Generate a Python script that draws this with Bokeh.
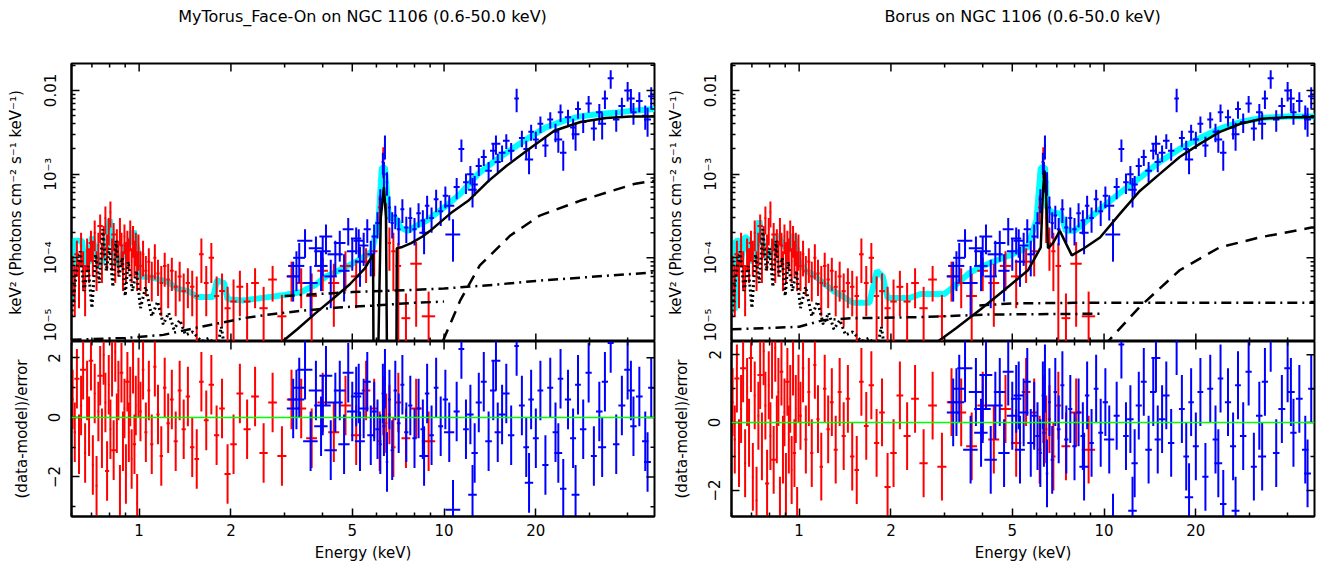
import numpy as np
from bokeh.plotting import figure
from bokeh.models import Range1d, FixedTicker, Span, Div
from bokeh.layouts import row, column
from bokeh.embed import file_html
from bokeh.resources import INLINE

# ---------------- data: XMM (red) ----------------
red_e = [0.605, 0.615, 0.625, 0.635, 0.645, 0.655, 0.665, 0.675, 0.685, 0.695,
         0.705, 0.715, 0.725, 0.735, 0.745, 0.755, 0.765, 0.775, 0.785, 0.795,
         0.805, 0.815, 0.825, 0.835, 0.845, 0.855, 0.865, 0.875, 0.885, 0.895,
         0.905, 0.915, 0.925, 0.935, 0.945, 0.955, 0.965, 0.975, 0.985, 0.995,
         1.010, 1.030, 1.052, 1.076, 1.100, 1.126, 1.153, 1.182, 1.213, 1.245,
         1.280, 1.318, 1.358, 1.400, 1.445, 1.493, 1.545, 1.600, 1.660, 1.725,
         1.795, 1.870, 1.950, 2.040, 2.140, 2.260, 2.400, 2.560, 2.740, 2.940,
         3.160, 3.400, 3.680, 4.000, 4.350, 4.750, 5.150, 5.550, 5.900, 6.150,
         6.320, 6.460, 6.620, 6.820, 7.080, 7.500, 8.100, 8.900]
red_hw = [0.005, 0.005, 0.012, 0.005, 0.005, 0.015, 0.005, 0.005, 0.005, 0.012,
          0.005, 0.005, 0.005, 0.005, 0.015, 0.005, 0.005, 0.005, 0.012, 0.005,
          0.005, 0.005, 0.015, 0.005, 0.005, 0.005, 0.005, 0.012, 0.005, 0.005,
          0.005, 0.015, 0.005, 0.005, 0.005, 0.005, 0.012, 0.005, 0.005, 0.005,
          0.010, 0.010, 0.012, 0.012, 0.013, 0.013, 0.014, 0.015, 0.016, 0.016,
          0.018, 0.020, 0.020, 0.022, 0.024, 0.025, 0.027, 0.028, 0.030, 0.035,
          0.035, 0.040, 0.045, 0.050, 0.055, 0.060, 0.070, 0.080, 0.090, 0.100,
          0.110, 0.130, 0.150, 0.160, 0.180, 0.200, 0.200, 0.180, 0.150, 0.080,
          0.060, 0.060, 0.080, 0.110, 0.150, 0.250, 0.350, 0.450]
red_f = [7.0e-5, 5.0e-5, 1.1e-4, 6.0e-5, 1.4e-4, 8.0e-5, 5.0e-5, 1.2e-4, 9.0e-5, 1.5e-4,
         1.1e-4, 2.0e-4, 8.0e-5, 1.4e-4, 2.4e-4, 1.0e-4, 1.7e-4, 3.0e-4, 1.3e-4, 2.2e-4,
         3.5e-4, 1.2e-4, 1.9e-4, 9.0e-5, 1.6e-4, 1.1e-4, 2.2e-4, 1.4e-4, 8.0e-5, 1.8e-4,
         1.0e-4, 1.5e-4, 1.2e-4, 2.0e-4, 9.0e-5, 1.7e-4, 1.1e-4, 1.4e-4, 8.0e-5, 1.3e-4,
         8.0e-5, 1.1e-4, 7.0e-5, 9.0e-5, 6.0e-5, 1.0e-4, 6.5e-5, 5.0e-5, 8.0e-5, 5.5e-5,
         7.0e-5, 4.5e-5, 6.0e-5, 4.0e-5, 5.0e-5, 4.5e-5, 3.5e-5, 1.1e-4, 5.0e-5, 1.0e-4,
         3.5e-5, 4.0e-5, 2.5e-5, 3.0e-5, 4.5e-5, 3.0e-5, 5.0e-5, 2.5e-5, 5.5e-5, 2.0e-5,
         6.0e-5, 5.0e-5, 3.5e-5, 7.0e-5, 5.0e-5, 8.0e-5, 6.0e-5, 9.0e-5, 1.2e-4, 4.0e-4,
         1.5e-3, 3.0e-4, 1.5e-4, 1.2e-4, 8.0e-5, 1.9e-5, 8.5e-5, 2.0e-5]
red_df = [3.5e-5, 3.0e-5, 5.0e-5, 3.5e-5, 6.0e-5, 4.0e-5, 3.0e-5, 5.0e-5, 4.0e-5, 6.0e-5,
          5.0e-5, 8.0e-5, 4.0e-5, 6.0e-5, 9.0e-5, 5.0e-5, 7.0e-5, 1.1e-4, 6.0e-5, 8.0e-5,
          1.2e-4, 5.0e-5, 7.0e-5, 4.0e-5, 6.0e-5, 5.0e-5, 8.0e-5, 6.0e-5, 4.0e-5, 7.0e-5,
          5.0e-5, 6.0e-5, 5.0e-5, 8.0e-5, 4.0e-5, 7.0e-5, 5.0e-5, 6.0e-5, 4.0e-5, 6.0e-5,
          4.0e-5, 5.0e-5, 3.5e-5, 4.0e-5, 3.0e-5, 4.5e-5, 3.0e-5, 3.0e-5, 3.5e-5, 3.0e-5,
          3.0e-5, 2.5e-5, 3.0e-5, 2.5e-5, 2.5e-5, 2.5e-5, 2.5e-5, 6.0e-5, 3.0e-5, 5.0e-5,
          2.5e-5, 2.5e-5, 2.0e-5, 2.5e-5, 2.5e-5, 2.0e-5, 2.5e-5, 2.0e-5, 2.5e-5, 1.6e-5,
          3.0e-5, 2.5e-5, 3.0e-5, 3.0e-5, 3.5e-5, 4.0e-5, 3.5e-5, 4.0e-5, 6.0e-5, 1.5e-4,
          6.0e-4, 1.5e-4, 8.0e-5, 8.0e-5, 7.0e-5, 1.85e-5, 7.0e-5, 1.95e-5]
red_res = [0.6, -0.5, 1.3, -0.9, 0.4, 1.6, -1.2, 0.9, -0.3, 1.9,
           -1.6, 0.8, -2.3, 0.2, 1.4, -0.7, 2.1, 0.5, -1.8, 1.1,
           -0.4, 1.7, -1.1, 2.2, -0.2, 0.9, -2.6, 1.5, -0.8, 0.3,
           -1.9, 1.2, -0.5, 0.7, -1.4, 1.8, -0.9, 0.4, -2.9, 1.0,
           0.2, 1.6, -0.5, 0.9, -0.9, 1.7, 0.1, -1.3, 1.0, -0.2,
           0.6, -0.8, 0.9, -0.4, 0.7, -1.0, -1.4, 1.2, -0.1, 1.1,
           -0.6, 0.3, -1.9, -0.9, 0.8, -0.4, 0.7, -1.2, 0.5, -1.3,
           0.6, 0.3, -0.7, 0.5, -0.5, 0.4, -0.6, 0.9, 0.3, -0.8,
           0.4, -0.2, 0.1, -1.0, 0.5, -0.7, 0.3, -0.8]

# ---------------- data: NuSTAR (blue) ----------------
blue_e = [3.20, 3.28, 3.35, 3.50, 3.65, 3.80, 3.95, 4.00, 4.10, 4.25,
          4.40, 4.55, 4.70, 4.85, 5.00, 5.15, 5.25, 5.30, 5.45, 5.60,
          5.75, 5.90, 6.05, 6.18, 6.30, 6.35, 6.40, 6.50, 6.62, 6.76,
          6.92, 7.10, 7.30, 7.52, 7.75, 8.00, 8.25, 8.52, 8.60, 8.80,
          9.10, 9.42, 9.75, 10.1, 10.4, 10.7, 11.0, 11.4, 11.8, 12.2,
          12.4, 12.6, 13.0, 13.5, 14.0, 14.5, 14.8, 15.0, 15.5, 16.0,
          16.6, 17.3, 18.0, 18.6, 19.0, 19.3, 20.0, 20.7, 21.5, 22.3,
          23.2, 23.7, 24.1, 24.6, 25.5, 26.5, 27.0, 27.5, 28.6, 29.8,
          31.0, 32.3, 33.0, 33.7, 35.2, 36.7, 38.3, 40.0, 41.0, 41.8,
          43.7, 45.7, 46.5, 47.8]
blue_hw = [0.15, 0.20, 0.15, 0.20, 0.20, 0.20, 0.20, 0.25, 0.20, 0.20,
           0.25, 0.20, 0.20, 0.20, 0.20, 0.20, 0.20, 0.20, 0.20, 0.15,
           0.15, 0.12, 0.10, 0.07, 0.06, 0.08, 0.05, 0.06, 0.07, 0.08,
           0.09, 0.10, 0.11, 0.12, 0.12, 0.13, 0.14, 0.15, 0.30, 0.15,
           0.16, 0.17, 0.18, 0.20, 0.40, 0.60, 0.25, 0.25, 0.25, 0.30,
           0.40, 0.30, 0.30, 0.30, 0.35, 0.35, 0.50, 0.35, 0.40, 0.40,
           0.40, 0.30, 0.40, 0.40, 0.60, 0.40, 0.45, 0.45, 0.50, 0.50,
           0.50, 0.70, 0.50, 0.60, 0.60, 0.60, 0.80, 0.60, 0.70, 0.70,
           0.70, 0.80, 1.00, 0.80, 0.80, 0.90, 1.00, 1.00, 1.20, 1.00,
           1.10, 1.10, 1.20, 1.10]
blue_f = [6.0e-5, 8.0e-5, 1.0e-4, 1.6e-4, 5.0e-5, 1.3e-4, 8.0e-5, 1.2e-4, 1.8e-4, 6.0e-5,
          1.1e-4, 1.5e-4, 7.0e-5, 2.2e-4, 1.2e-4, 1.7e-4, 1.6e-4, 9.0e-5, 1.4e-4, 2.2e-4,
          1.1e-4, 1.8e-4, 2.6e-4, 5.0e-4, 1.4e-3, 1.0e-3, 2.2e-3, 8.0e-4, 4.0e-4, 2.6e-4,
          3.2e-4, 2.2e-4, 3.8e-4, 2.3e-4, 3.0e-4, 2.2e-4, 3.4e-4, 2.8e-4, 2.0e-4, 4.2e-4,
          3.0e-4, 5.0e-4, 3.6e-4, 5.5e-4, 4.2e-4, 1.9e-4, 7.0e-4, 2.0e-3, 8.0e-4, 1.0e-3,
          6.5e-4, 7.5e-4, 1.25e-3, 1.6e-3, 1.1e-3, 1.9e-3, 2.3e-3, 1.4e-3, 1.8e-3, 2.5e-3,
          1.9e-3, 8.0e-3, 2.7e-3, 2.0e-3, 1.5e-3, 3.2e-3, 2.6e-3, 4.0e-3, 2.2e-3, 4.5e-3,
          3.2e-3, 2.6e-3, 5.5e-3, 1.8e-3, 4.8e-3, 3.6e-3, 3.0e-3, 6.0e-3, 4.2e-3, 7.0e-3,
          3.5e-3, 5.5e-3, 4.0e-3, 8.0e-3, 1.4e-2, 4.5e-3, 6.5e-3, 1.0e-2, 8.0e-3, 5.5e-3,
          7.5e-3, 5.0e-3, 4.5e-3, 8.5e-3]
blue_df = [3.0e-5, 4.0e-5, 5.0e-5, 6.0e-5, 3.0e-5, 5.0e-5, 4.0e-5, 6.0e-5, 7.0e-5, 3.5e-5,
           5.0e-5, 6.0e-5, 4.0e-5, 8.0e-5, 5.0e-5, 6.0e-5, 6.0e-5, 4.5e-5, 6.0e-5, 7.0e-5,
           5.0e-5, 7.0e-5, 9.0e-5, 1.6e-4, 4.0e-4, 4.0e-4, 7.0e-4, 2.5e-4, 1.4e-4, 9.0e-5,
           1.0e-4, 8.0e-5, 1.2e-4, 8.0e-5, 1.0e-4, 8.0e-5, 1.1e-4, 9.0e-5, 9.0e-5, 1.3e-4,
           1.0e-4, 1.5e-4, 1.2e-4, 1.6e-4, 1.4e-4, 1.0e-4, 2.0e-4, 6.0e-4, 2.2e-4, 2.5e-4,
           2.5e-4, 2.0e-4, 3.0e-4, 3.5e-4, 3.0e-4, 4.0e-4, 6.0e-4, 3.5e-4, 4.0e-4, 5.0e-4,
           4.5e-4, 2.5e-3, 6.0e-4, 5.0e-4, 5.0e-4, 7.0e-4, 6.0e-4, 9.0e-4, 6.0e-4, 1.0e-3,
           8.0e-4, 8.0e-4, 1.3e-3, 7.0e-4, 1.1e-3, 1.0e-3, 1.1e-3, 1.4e-3, 1.1e-3, 1.6e-3,
           1.0e-3, 1.4e-3, 1.4e-3, 2.0e-3, 3.5e-3, 1.3e-3, 1.7e-3, 2.6e-3, 2.4e-3, 1.6e-3,
           2.0e-3, 1.6e-3, 1.7e-3, 2.4e-3]
blue_res = [0.3, 0.6, 1.0, 1.6, -0.8, 0.9, -0.3, 0.4, 1.4, -1.1,
            0.5, 0.9, -0.9, 1.5, 0.2, 0.7, 0.8, -0.8, 0.3, 1.2,
            -0.6, 0.2, -0.4, -0.9, 0.8, -0.3, 1.3, -1.5, 0.6, -1.1,
            0.9, -0.2, 1.1, -0.5, 0.4, -0.7, 0.3, -0.4, -1.3, 0.8,
            -0.6, 1.0, -0.3, 0.6, -0.5, -3.1, 0.2, 2.3, -0.4, 0.1,
            -2.6, -1.2, 0.5, 1.2, -0.8, 0.9, 1.9, -0.5, 0.1, 0.8,
            -0.6, 2.4, 0.4, -1.0, -2.2, 0.6, -0.7, 0.9, -1.6, 1.0,
            -0.5, -1.2, 1.3, -2.4, 0.6, -0.7, -2.6, 1.1, -0.4, 1.5,
            -1.3, 0.2, -1.0, 1.2, 2.5, -0.9, 0.4, 1.6, 0.9, -0.3,
            0.7, -0.8, -1.5, 1.0]

# ---------------- models: MyTorus face-on (left) ----------------
myt_total_e = [0.60, 0.61, 0.65, 0.66, 0.69, 0.70, 0.72, 0.74, 0.77, 0.79, 0.80, 0.82,
               0.84, 0.87, 0.90, 0.93, 0.96, 0.99, 1.00, 1.10, 1.17, 1.25, 1.33, 1.45,
               1.55, 1.75, 1.80, 1.90, 1.95, 2.20, 2.50, 3.00, 3.40, 3.80, 4.10, 4.50,
               5.00, 5.40, 5.80, 6.10, 6.25, 6.40, 6.50, 6.60, 7.00, 7.20, 7.60, 8.10,
               8.80, 10.0, 11.3, 12.9, 14.7, 16.7, 18.9, 21.5, 24.5, 27.9, 31.7, 36.0,
               41.0, 49.0]
myt_total_f = [3.1e-5, 1.6e-4, 1.6e-4, 8.8e-5, 9.0e-5, 1.8e-4, 1.2e-4, 8.0e-5, 1.0e-4, 1.6e-4,
               2.9e-4, 1.5e-4, 8.5e-5, 9.0e-5, 1.4e-4, 1.5e-4, 2.1e-4, 1.2e-4, 6.0e-5, 5.8e-5,
               5.5e-5, 5.1e-5, 4.3e-5, 4.0e-5, 3.4e-5, 3.4e-5, 5.4e-5, 5.0e-5, 3.2e-5, 3.1e-5,
               3.3e-5, 3.6e-5, 3.9e-5, 4.8e-5, 6.0e-5, 7.0e-5, 8.5e-5, 1.0e-4, 1.2e-4, 2.8e-4,
               1.2e-3, 1.2e-3, 5.8e-4, 3.0e-4, 2.9e-4, 2.3e-4, 2.1e-4, 2.4e-4, 2.8e-4, 4.0e-4,
               5.8e-4, 1.0e-3, 1.45e-3, 2.0e-3, 2.7e-3, 3.6e-3, 4.3e-3, 4.9e-3, 5.2e-3, 5.4e-3,
               5.7e-3, 6.0e-3]
myt_solid_e = [2.95, 3.3, 3.8, 4.3, 4.9, 5.5, 5.85, 5.9, 5.95, 6.2, 6.35, 6.45, 6.55, 6.75,
               6.95, 7.0, 7.3, 7.8, 8.5, 9.0, 10.5, 12.0, 14.0, 16.0, 19.0, 23.0, 28.0,
               34.0, 41.0, 49.0]
myt_solid_f = [1.0e-5, 1.4e-5, 2.2e-5, 3.2e-5, 4.8e-5, 7.5e-5, 1.1e-4, 1e-7, 1e-7, 3.0e-4,
               7.0e-4, 3.0e-4, 1e-7, 1e-7, 1e-7, 1.3e-4, 1.35e-4, 1.5e-4, 1.8e-4, 2.1e-4,
               3.4e-4, 4.8e-4, 8.3e-4, 1.25e-3, 2.0e-3, 3.3e-3, 4.2e-3, 4.7e-3, 4.9e-3, 4.9e-3]
myt_dash_e = [9.6, 9.9, 11.3, 13.1, 16.5, 20.6, 27.9, 42.4, 49.0]
myt_dash_f = [6e-6, 1.0e-5, 3.1e-5, 8.1e-5, 1.85e-4, 3.2e-4, 4.8e-4, 7.7e-4, 8.3e-4]
myt_dd1_e = [0.6, 0.9, 1.2, 1.6, 2.2, 2.8, 3.5, 4.5, 6.0, 8.0, 10.0]
myt_dd1_f = [1.05e-5, 1.1e-5, 1.2e-5, 1.5e-5, 1.9e-5, 2.15e-5, 2.35e-5, 2.55e-5, 2.7e-5, 2.9e-5, 3.0e-5]
myt_dd2_e = [3.0, 5.0, 7.5, 10.0, 15.0, 20.0, 30.0, 49.0]
myt_dd2_f = [3.5e-5, 3.9e-5, 4.1e-5, 4.3e-5, 4.8e-5, 5.3e-5, 5.9e-5, 6.7e-5]

# ---------------- models: Borus (right) ----------------
bor_total_e = [0.60, 0.615, 0.62, 0.635, 0.645, 0.66, 0.675, 0.69, 0.72, 0.74, 0.76, 0.79,
               0.82, 0.85, 0.88, 0.92, 0.96, 1.00, 1.05, 1.10, 1.20, 1.30, 1.42, 1.50,
               1.70, 1.80, 1.88, 1.95, 2.30, 2.50, 3.00, 3.30, 3.60, 4.00, 4.50, 5.00,
               5.60, 6.00, 6.20, 6.40, 6.50, 6.80, 7.20, 7.50, 8.00, 8.60, 9.70, 11.3,
               13.1, 15.2, 17.7, 20.6, 24.0, 28.0, 33.0, 40.0, 49.0]
bor_total_f = [2.4e-5, 2.4e-5, 1.6e-4, 1.6e-4, 9.0e-5, 1.75e-4, 1.75e-4, 9.0e-5, 1.0e-4, 2.8e-4,
               1.5e-4, 1.0e-4, 1.3e-4, 1.9e-4, 1.5e-4, 1.2e-4, 1.9e-4, 9.0e-5, 7.0e-5, 6.5e-5,
               5.0e-5, 4.0e-5, 3.3e-5, 2.9e-5, 2.9e-5, 7.0e-5, 6.0e-5, 3.3e-5, 3.3e-5, 3.7e-5,
               3.7e-5, 4.9e-5, 6.5e-5, 8.0e-5, 9.5e-5, 1.1e-4, 1.33e-4, 2.8e-4, 1.2e-3, 1.2e-3,
               4.0e-4, 3.4e-4, 3.4e-4, 2.1e-4, 2.1e-4, 2.6e-4, 3.8e-4, 6.0e-4, 9.0e-4, 1.4e-3,
               2.0e-3, 2.7e-3, 3.5e-3, 4.2e-3, 4.7e-3, 4.9e-3, 4.9e-3]
bor_solid_e = [2.85, 3.27, 3.92, 4.70, 5.63, 6.20, 6.30, 6.38, 6.45, 6.55, 6.80, 7.16,
               7.84, 8.60, 9.70, 11.3, 13.1, 15.2, 17.7, 20.6, 24.0, 28.0, 33.0, 40.0, 49.0]
bor_solid_f = [1.0e-5, 1.44e-5, 2.4e-5, 4.1e-5, 7.1e-5, 1.33e-4, 6.0e-4, 1.1e-3, 6.0e-4, 1.3e-4,
               1.5e-4, 2.1e-4, 1.07e-4, 1.3e-4, 1.75e-4, 3.4e-4, 6.3e-4, 1.0e-3, 1.6e-3, 2.3e-3,
               3.2e-3, 4.0e-3, 4.6e-3, 4.8e-3, 4.8e-3]
bor_dash_e = [9.8, 10.3, 13.1, 17.7, 23.9, 32.3, 47.9, 49.0]
bor_dash_f = [5e-6, 1.0e-5, 2.6e-5, 7.1e-5, 1.33e-4, 1.75e-4, 2.3e-4, 2.3e-4]
bor_dd1_e = [0.6, 0.8, 1.0, 1.2, 1.5, 2.4, 4.2, 10.0]
bor_dd1_f = [1.4e-5, 1.45e-5, 1.5e-5, 1.8e-5, 1.9e-5, 1.95e-5, 2.1e-5, 2.15e-5]
bor_dd2_e = [3.9, 5.0, 8.0, 15.0, 49.0]
bor_dd2_f = [2.7e-5, 2.85e-5, 2.9e-5, 2.9e-5, 2.9e-5]

# thermal (dotted) component, shared
apec_e = [0.60, 0.62, 0.64, 0.66, 0.68, 0.70, 0.72, 0.74, 0.76, 0.78, 0.80, 0.82,
          0.84, 0.86, 0.88, 0.90, 0.92, 0.95, 0.98, 1.01, 1.05, 1.10, 1.15, 1.20,
          1.25, 1.30, 1.36, 1.42, 1.50, 1.60, 1.70, 1.80, 1.86, 1.92, 2.00, 2.20]
apec_f = [2.0e-5, 6.0e-5, 1.2e-4, 4.0e-5, 8.0e-5, 2.5e-5, 1.1e-4, 5.0e-5, 2.2e-4, 7.0e-5,
          1.3e-4, 4.5e-5, 1.6e-4, 6.0e-5, 1.0e-4, 3.5e-5, 9.0e-5, 4.0e-5, 7.0e-5, 2.5e-5,
          4.5e-5, 2.0e-5, 3.0e-5, 1.6e-5, 2.2e-5, 1.4e-5, 1.8e-5, 1.2e-5, 1.3e-5, 1.0e-5,
          1.1e-5, 8.0e-6, 1.5e-5, 7.0e-6, 5.0e-6, 3.0e-6]

x_major = [1, 2, 5, 10, 20]
x_minor = [0.6, 0.7, 0.8, 0.9, 3, 4, 6, 7, 8, 9, 30, 40]
x_labels = {1: "1", 2: "2", 5: "5", 10: "10", 20: "20"}
y_major = [1e-5, 1e-4, 1e-3, 1e-2]
y_minor = [k * 10.0 ** e for e in range(-5, -1) for k in range(2, 10)]
y_labels = {1e-5: "10\u207b\u2075", 1e-4: "10\u207b\u2074", 1e-3: "10\u207b\u00b3", 1e-2: "0.01"}
r_major = [-2, 0, 2]
r_minor = [-3, -1, 1]
r_labels = {-2: "\u22122", 0: "0", 2: "2"}

X_LO, X_HI = 0.6, 49.0
Y_LO, Y_HI = 1e-5, 0.021

FONT = "DejaVu Sans"
FS = "15px"
RED = "#ff0000"
BLUE = "#0000ff"
MAJ, MIN = 8, 4
TITLE_H = 34


def style_axis(ax):
    ax.axis_line_width = 2
    ax.axis_line_color = "black"
    ax.major_tick_line_width = 1.5
    ax.minor_tick_line_width = 1.5
    ax.major_tick_in = MAJ
    ax.major_tick_out = 0
    ax.minor_tick_in = MIN
    ax.minor_tick_out = 0
    ax.major_label_text_font = FONT
    ax.major_label_text_font_size = FS
    ax.major_label_text_color = "black"
    ax.axis_label_text_font = FONT
    ax.axis_label_text_font_style = "normal"
    ax.axis_label_text_font_size = FS
    ax.axis_label_text_color = "black"


def mirror_ticks(p, vals_major, vals_minor, fixed, horizontal_edge):
    # inward tick marks on the edges without labelled axes (half of each dash is clipped)
    vals = list(vals_major) + list(vals_minor)
    sizes = [2 * MAJ] * len(vals_major) + [2 * MIN] * len(vals_minor)
    if horizontal_edge:
        p.scatter(vals, [fixed] * len(vals), marker="dash", size=sizes, angle=np.pi / 2,
                  line_color="black", line_width=1.5)
    else:
        p.scatter([fixed] * len(vals), vals, marker="dash", size=sizes,
                  line_color="black", line_width=1.5)


def make_pair(title, border_l, border_r, fig_w, tot_e, tot_f, sol_e, sol_f, da_e, da_f,
              d1_e, d1_f, d2_e, d2_f, res_lo, res_hi):
    frame_w = fig_w - border_l - border_r
    head = Div(text=('<div style="margin-left:%dpx;width:%dpx;text-align:center;'
                     'white-space:nowrap;font-family:\'DejaVu Sans\';font-size:16px;'
                     'line-height:%dpx;color:black;">%s</div>'
                     % (border_l, frame_w, TITLE_H, title)),
               width=fig_w, height=TITLE_H, margin=(0, 0, 0, 0))

    xr = Range1d(X_LO, X_HI)
    top = figure(width=fig_w, height=341 - TITLE_H, x_axis_type="log", y_axis_type="log",
                 x_range=xr, y_range=Range1d(Y_LO, Y_HI), x_axis_location=None,
                 output_backend="svg", toolbar_location=None,
                 min_border_left=border_l, min_border_right=border_r,
                 min_border_top=63 - TITLE_H, min_border_bottom=0)
    bot = figure(width=fig_w, height=227, x_axis_type="log",
                 x_range=xr, y_range=Range1d(res_lo, res_hi),
                 output_backend="svg", toolbar_location=None,
                 min_border_left=border_l, min_border_right=border_r,
                 min_border_top=0, min_border_bottom=52)
    for p in (top, bot):
        p.grid.visible = False
        p.outline_line_color = "black"
        p.outline_line_width = 2
        p.background_fill_color = "white"
        p.border_fill_color = "white"

    xt = FixedTicker(ticks=x_major, minor_ticks=x_minor)
    yt = FixedTicker(ticks=y_major, minor_ticks=y_minor)
    rt = FixedTicker(ticks=r_major, minor_ticks=r_minor)

    top.yaxis.ticker = yt
    top.yaxis.major_label_overrides = y_labels
    top.yaxis.major_label_orientation = "vertical"
    top.yaxis.major_label_standoff = 11
    top.yaxis.axis_label = "keV\u00b2 (Photons cm\u207b\u00b2 s\u207b\u00b9 keV\u207b\u00b9)"
    top.yaxis.axis_label_standoff = 15
    style_axis(top.yaxis[0])

    bot.xaxis.ticker = xt
    bot.xaxis.major_label_overrides = x_labels
    bot.xaxis.major_label_standoff = 7
    bot.xaxis.axis_label = "Energy (keV)"
    bot.xaxis.axis_label_standoff = 5
    style_axis(bot.xaxis[0])
    bot.yaxis.ticker = rt
    bot.yaxis.major_label_overrides = r_labels
    bot.yaxis.major_label_orientation = "vertical"
    bot.yaxis.major_label_standoff = 11
    bot.yaxis.axis_label = "(data-model)/error"
    bot.yaxis.axis_label_standoff = 15
    style_axis(bot.yaxis[0])

    # model total (thick cyan)
    top.line(tot_e, tot_f, line_color="#00ffff", line_width=6)

    # data
    for e, hw, f, df, col in ((red_e, red_hw, red_f, red_df, RED),
                              (blue_e, blue_hw, blue_f, blue_df, BLUE)):
        e = np.array(e); hw = np.array(hw); f = np.array(f); df = np.array(df)
        top.segment(x0=e - hw, x1=e + hw, y0=f, y1=f, line_color=col, line_width=2)
        top.segment(x0=e, x1=e, y0=np.maximum(f - df, 1e-8), y1=f + df,
                    line_color=col, line_width=2)

    # model components
    top.line(apec_e, apec_f, line_color="black", line_width=3, line_dash="2 3")
    top.line(d1_e, d1_f, line_color="black", line_width=2.5, line_dash="10 5 2 5")
    top.line(d2_e, d2_f, line_color="black", line_width=2.5, line_dash="10 5 2 5")
    top.line(da_e, da_f, line_color="black", line_width=2.5, line_dash="12 8")
    top.line(sol_e, sol_f, line_color="black", line_width=2.5)

    # residuals
    for e, hw, r, col in ((red_e, red_hw, red_res, RED), (blue_e, blue_hw, blue_res, BLUE)):
        e = np.array(e); hw = np.array(hw); r = np.array(r)
        bot.segment(x0=e - hw, x1=e + hw, y0=r, y1=r, line_color=col, line_width=2)
        bot.segment(x0=e, x1=e, y0=r - 1.0, y1=r + 1.0, line_color=col, line_width=2)
    bot.add_layout(Span(location=0, dimension="width", line_color="#00ff00", line_width=1.5))

    # ticks on the unlabelled edges
    mirror_ticks(top, x_major, x_minor, Y_HI, True)
    mirror_ticks(top, x_major, x_minor, Y_LO, True)
    mirror_ticks(top, y_major, y_minor, X_HI, False)
    mirror_ticks(bot, x_major, x_minor, res_hi, True)
    mirror_ticks(bot, r_major, r_minor, X_HI, False)

    return column(head, top, bot, spacing=0)


left = make_pair("MyTorus_Face-On on NGC 1106 (0.6-50.0 keV)", 71, 8, 662,
                 myt_total_e, myt_total_f, myt_solid_e, myt_solid_f, myt_dash_e, myt_dash_f,
                 myt_dd1_e, myt_dd1_f, myt_dd2_e, myt_dd2_f, -3.33, 2.55)
right = make_pair("Borus on NGC 1106 (0.6-50.0 keV)", 69, 11, 663,
                  bor_total_e, bor_total_f, bor_solid_e, bor_solid_f, bor_dash_e, bor_dash_f,
                  bor_dd1_e, bor_dd1_f, bor_dd2_e, bor_dd2_f, -2.77, 2.39)

layout = row(left, right, spacing=0)
open("out.html", "w").write(file_html(layout, INLINE))
